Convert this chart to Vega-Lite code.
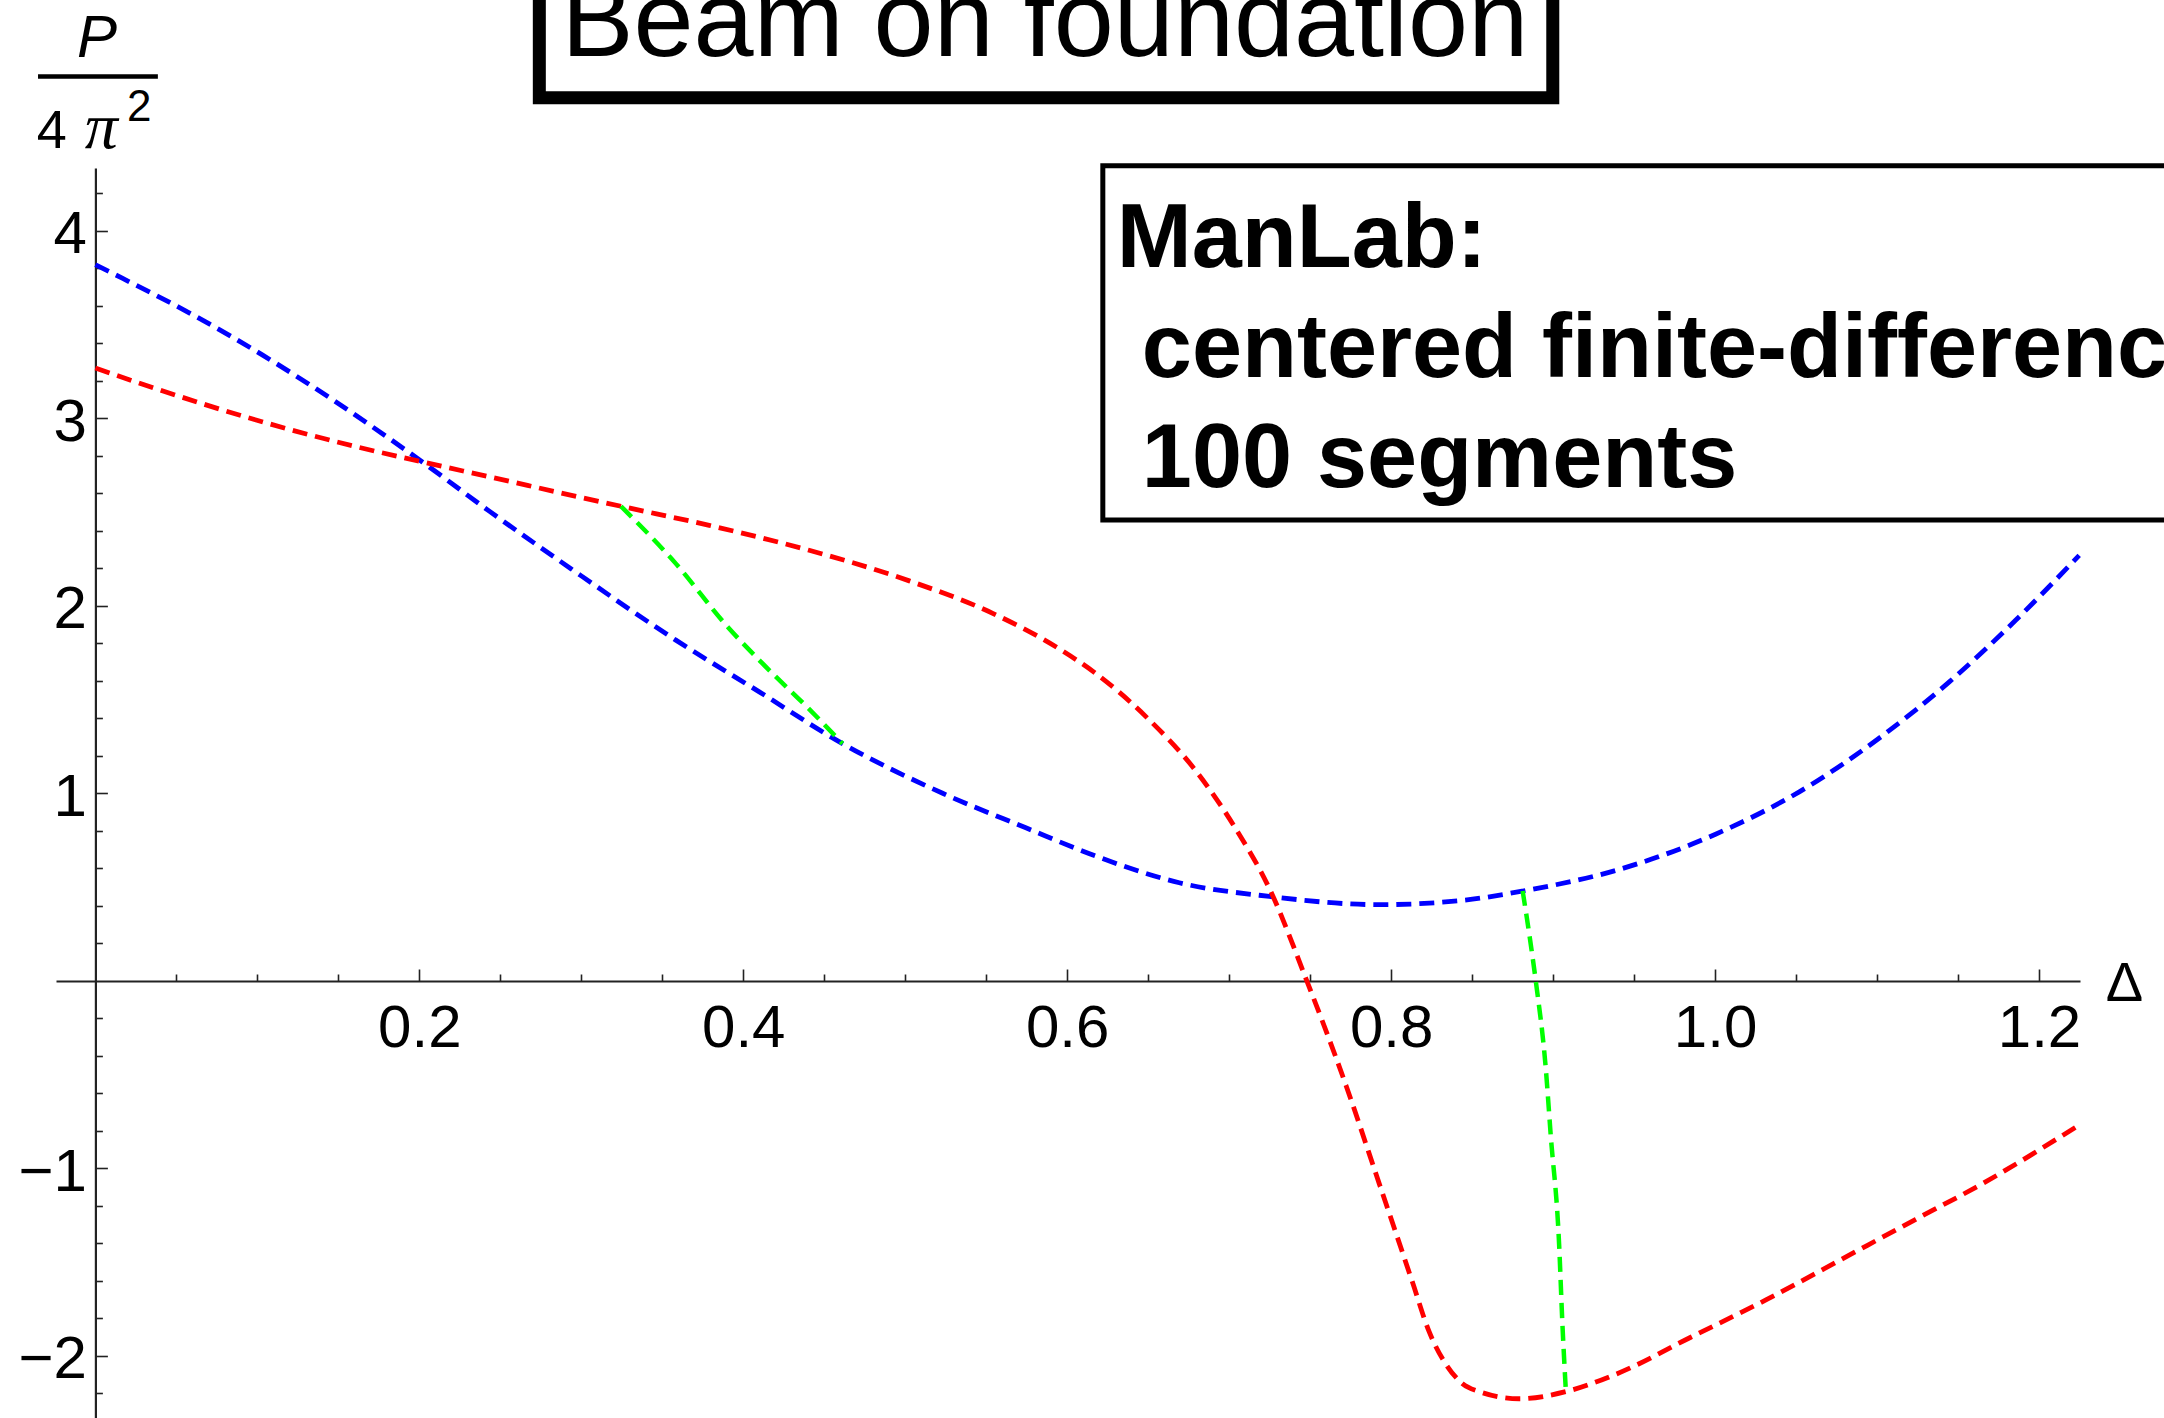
{
  "$schema": "https://vega.github.io/schema/vega-lite/v6.json",
  "width": 2024,
  "height": 1250,
  "autosize": {"type": "none"},
  "padding": {"left": 56, "top": 168, "right": 84, "bottom": 0},
  "background": "white",
  "config": {"view": {"stroke": null}, "axis": {"grid": false}},
  "datasets": {
    "curves": [
      {"curve": "branch 1", "seg": "b", "delta": 0, "p": 3.82},
      {"curve": "branch 1", "seg": "b", "delta": 0.0169, "p": 3.747},
      {"curve": "branch 1", "seg": "b", "delta": 0.0621, "p": 3.544},
      {"curve": "branch 1", "seg": "b", "delta": 0.1033, "p": 3.338},
      {"curve": "branch 1", "seg": "b", "delta": 0.1444, "p": 3.112},
      {"curve": "branch 1", "seg": "b", "delta": 0.1815, "p": 2.893},
      {"curve": "branch 1", "seg": "b", "delta": 0.2021, "p": 2.767},
      {"curve": "branch 1", "seg": "b", "delta": 0.2432, "p": 2.506},
      {"curve": "branch 1", "seg": "b", "delta": 0.2936, "p": 2.199},
      {"curve": "branch 1", "seg": "b", "delta": 0.3584, "p": 1.818},
      {"curve": "branch 1", "seg": "b", "delta": 0.4099, "p": 1.542},
      {"curve": "branch 1", "seg": "b", "delta": 0.4613, "p": 1.266},
      {"curve": "branch 1", "seg": "b", "delta": 0.5231, "p": 1.001},
      {"curve": "branch 1", "seg": "b", "delta": 0.5745, "p": 0.817},
      {"curve": "branch 1", "seg": "b", "delta": 0.6177, "p": 0.666},
      {"curve": "branch 1", "seg": "b", "delta": 0.6692, "p": 0.524},
      {"curve": "branch 1", "seg": "b", "delta": 0.7248, "p": 0.451},
      {"curve": "branch 1", "seg": "b", "delta": 0.7927, "p": 0.407},
      {"curve": "branch 1", "seg": "b", "delta": 0.8441, "p": 0.43},
      {"curve": "branch 1", "seg": "b", "delta": 0.8812, "p": 0.48},
      {"curve": "branch 1", "seg": "b", "delta": 0.9388, "p": 0.59},
      {"curve": "branch 1", "seg": "b", "delta": 1.0003, "p": 0.783},
      {"curve": "branch 1", "seg": "b", "delta": 1.052, "p": 1.009},
      {"curve": "branch 1", "seg": "b", "delta": 1.1033, "p": 1.308},
      {"curve": "branch 1", "seg": "b", "delta": 1.1446, "p": 1.595},
      {"curve": "branch 1", "seg": "b", "delta": 1.1857, "p": 1.925},
      {"curve": "branch 1", "seg": "b", "delta": 1.2248, "p": 2.27},
      {"curve": "branch 2", "seg": "r", "delta": 0, "p": 3.269},
      {"curve": "branch 2", "seg": "r", "delta": 0.0374, "p": 3.159},
      {"curve": "branch 2", "seg": "r", "delta": 0.0992, "p": 2.992},
      {"curve": "branch 2", "seg": "r", "delta": 0.1609, "p": 2.85},
      {"curve": "branch 2", "seg": "r", "delta": 0.2021, "p": 2.768},
      {"curve": "branch 2", "seg": "r", "delta": 0.2432, "p": 2.689},
      {"curve": "branch 2", "seg": "r", "delta": 0.2947, "p": 2.589},
      {"curve": "branch 2", "seg": "r", "delta": 0.3245, "p": 2.532},
      {"curve": "branch 2", "seg": "r", "delta": 0.379, "p": 2.43},
      {"curve": "branch 2", "seg": "r", "delta": 0.4407, "p": 2.297},
      {"curve": "branch 2", "seg": "r", "delta": 0.5025, "p": 2.134},
      {"curve": "branch 2", "seg": "r", "delta": 0.554, "p": 1.961},
      {"curve": "branch 2", "seg": "r", "delta": 0.595, "p": 1.772},
      {"curve": "branch 2", "seg": "r", "delta": 0.6177, "p": 1.64},
      {"curve": "branch 2", "seg": "r", "delta": 0.6486, "p": 1.41},
      {"curve": "branch 2", "seg": "r", "delta": 0.6795, "p": 1.12},
      {"curve": "branch 2", "seg": "r", "delta": 0.7042, "p": 0.81},
      {"curve": "branch 2", "seg": "r", "delta": 0.7248, "p": 0.494},
      {"curve": "branch 2", "seg": "r", "delta": 0.7474, "p": 0.013},
      {"curve": "branch 2", "seg": "r", "delta": 0.7721, "p": -0.556},
      {"curve": "branch 2", "seg": "r", "delta": 0.7927, "p": -1.082},
      {"curve": "branch 2", "seg": "r", "delta": 0.8132, "p": -1.607},
      {"curve": "branch 2", "seg": "r", "delta": 0.8234, "p": -1.869},
      {"curve": "branch 2", "seg": "r", "delta": 0.8339, "p": -2.045},
      {"curve": "branch 2", "seg": "r", "delta": 0.844, "p": -2.147},
      {"curve": "branch 2", "seg": "r", "delta": 0.8544, "p": -2.19},
      {"curve": "branch 2", "seg": "r", "delta": 0.8791, "p": -2.228},
      {"curve": "branch 2", "seg": "r", "delta": 0.9079, "p": -2.19},
      {"curve": "branch 2", "seg": "r", "delta": 0.9388, "p": -2.097},
      {"curve": "branch 2", "seg": "r", "delta": 0.985, "p": -1.9},
      {"curve": "branch 2", "seg": "r", "delta": 1.0314, "p": -1.701},
      {"curve": "branch 2", "seg": "r", "delta": 1.0828, "p": -1.462},
      {"curve": "branch 2", "seg": "r", "delta": 1.1239, "p": -1.271},
      {"curve": "branch 2", "seg": "r", "delta": 1.165, "p": -1.081},
      {"curve": "branch 2", "seg": "r", "delta": 1.2248, "p": -0.768},
      {"curve": "link", "seg": "g1", "delta": 0.3245, "p": 2.532},
      {"curve": "link", "seg": "g1", "delta": 0.3584, "p": 2.226},
      {"curve": "link", "seg": "g1", "delta": 0.3898, "p": 1.894},
      {"curve": "link", "seg": "g1", "delta": 0.4117, "p": 1.695},
      {"curve": "link", "seg": "g1", "delta": 0.4407, "p": 1.45},
      {"curve": "link", "seg": "g1", "delta": 0.4613, "p": 1.266},
      {"curve": "link", "seg": "g2", "delta": 0.8812, "p": 0.48},
      {"curve": "link", "seg": "g2", "delta": 0.8851, "p": 0.261},
      {"curve": "link", "seg": "g2", "delta": 0.8893, "p": 0.0},
      {"curve": "link", "seg": "g2", "delta": 0.8955, "p": -0.469},
      {"curve": "link", "seg": "g2", "delta": 0.8985, "p": -0.819},
      {"curve": "link", "seg": "g2", "delta": 0.9037, "p": -1.403},
      {"curve": "link", "seg": "g2", "delta": 0.9058, "p": -1.84},
      {"curve": "link", "seg": "g2", "delta": 0.9079, "p": -2.19}
    ]
  },
  "data": {"name": "curves"},
  "resolve": {"axis": {"x": "independent", "y": "independent"}},
  "layer": [
    {
      "data": {"values": [{}]},
      "mark": {"type": "rect", "fill": "white", "stroke": "black", "strokeWidth": 13, "clip": false},
      "encoding": {
        "x": {"datum": 0.2741, "type": "quantitative", "axis": null},
        "x2": {"datum": 0.8998},
        "y": {"datum": 4.711, "type": "quantitative", "axis": null},
        "y2": {"datum": 5.6}
      }
    },
    {
      "data": {"values": [{}]},
      "mark": {"type": "text", "text": "Beam on foundation", "font": "Liberation Sans", "fontSize": 108, "align": "center", "baseline": "alphabetic", "fill": "black", "clip": false},
      "encoding": {
        "x": {"datum": 0.5862, "type": "quantitative", "axis": null},
        "y": {"datum": 4.934, "type": "quantitative", "axis": null}
      }
    },
    {
      "data": {"values": [{}]},
      "mark": {"type": "rect", "fill": "white", "stroke": "black", "strokeWidth": 5, "clip": false},
      "encoding": {
        "x": {"datum": 0.622, "type": "quantitative", "axis": null},
        "x2": {"datum": 1.299},
        "y": {"datum": 4.348, "type": "quantitative", "axis": null},
        "y2": {"datum": 2.458}
      }
    },
    {
      "data": {"values": [{}]},
      "mark": {"type": "text", "text": "ManLab:", "font": "Liberation Sans", "fontWeight": "bold", "fontSize": 90, "align": "left", "baseline": "alphabetic", "fill": "black", "clip": false},
      "encoding": {
        "x": {"datum": 0.6306, "type": "quantitative", "axis": null},
        "y": {"datum": 3.806, "type": "quantitative", "axis": null}
      }
    },
    {
      "data": {"values": [{}]},
      "mark": {"type": "text", "text": "centered finite-difference", "font": "Liberation Sans", "fontWeight": "bold", "fontSize": 90, "align": "left", "baseline": "alphabetic", "fill": "black", "clip": false},
      "encoding": {
        "x": {"datum": 0.6461, "type": "quantitative", "axis": null},
        "y": {"datum": 3.223, "type": "quantitative", "axis": null}
      }
    },
    {
      "data": {"values": [{}]},
      "mark": {"type": "text", "text": "100 segments", "font": "Liberation Sans", "fontWeight": "bold", "fontSize": 90, "align": "left", "baseline": "alphabetic", "fill": "black", "clip": false},
      "encoding": {
        "x": {"datum": 0.6461, "type": "quantitative", "axis": null},
        "y": {"datum": 2.636, "type": "quantitative", "axis": null}
      }
    },
    {
      "data": {"values": [{}]},
      "mark": {"type": "text", "text": "P", "font": "Liberation Sans", "fontStyle": "italic", "fontSize": 60, "align": "center", "baseline": "alphabetic", "fill": "black", "clip": false},
      "encoding": {
        "x": {"datum": 0.001, "type": "quantitative", "axis": null},
        "y": {"datum": 4.928, "type": "quantitative", "axis": null}
      }
    },
    {
      "data": {"values": [{}]},
      "mark": {"type": "rule", "strokeWidth": 4.5, "color": "black", "clip": false},
      "encoding": {
        "x": {"datum": -0.0354, "type": "quantitative", "axis": null},
        "x2": {"datum": 0.0386},
        "y": {"datum": 4.824, "type": "quantitative", "axis": null}
      }
    },
    {
      "data": {"values": [{}]},
      "mark": {"type": "text", "text": "4", "font": "Liberation Sans", "fontSize": 54, "align": "left", "baseline": "alphabetic", "fill": "black", "clip": false},
      "encoding": {
        "x": {"datum": -0.0362, "type": "quantitative", "axis": null},
        "y": {"datum": 4.445, "type": "quantitative", "axis": null}
      }
    },
    {
      "data": {"values": [{}]},
      "mark": {"type": "text", "text": "π", "font": "Liberation Serif", "fontStyle": "italic", "fontSize": 66, "align": "left", "baseline": "alphabetic", "fill": "black", "clip": false},
      "encoding": {
        "x": {"datum": -0.0066, "type": "quantitative", "axis": null},
        "y": {"datum": 4.445, "type": "quantitative", "axis": null}
      }
    },
    {
      "data": {"values": [{}]},
      "mark": {"type": "text", "text": "2", "font": "Liberation Sans", "fontSize": 44, "align": "left", "baseline": "alphabetic", "fill": "black", "clip": false},
      "encoding": {
        "x": {"datum": 0.0195, "type": "quantitative", "axis": null},
        "y": {"datum": 4.585, "type": "quantitative", "axis": null}
      }
    },
    {
      "transform": [{"filter": "datum.curve !== 'link'"}],
      "mark": {"type": "line", "strokeDash": [15, 8], "strokeWidth": 4.8, "interpolate": "monotone", "clip": false},
      "encoding": {
        "x": {
          "field": "delta", "type": "quantitative",
          "scale": {"domain": [-0.0243, 1.2253], "nice": false, "zero": false},
          "axis": {
            "orient": "bottom", "offset": -437,
            "values": [0.2, 0.4, 0.6, 0.8, 1.0, 1.2], "format": ".1f",
            "tickSize": -12, "tickWidth": 1.6, "tickColor": "#222",
            "domain": true, "domainColor": "#222", "domainWidth": 2.2,
            "labelFont": "Liberation Sans", "labelFontSize": 60, "labelColor": "black",
            "labelPadding": 30, "labelFlush": false, "labelOverlap": false,
            "grid": false,
            "title": "Δ", "titleFont": "Liberation Sans", "titleFontSize": 56, "titleFontWeight": "normal",
            "titleColor": "black", "titleX": 2068, "titleY": 2, "titleAlign": "center",
            "titleBaseline": "middle", "titleAngle": 0
          }
        },
        "y": {
          "field": "p", "type": "quantitative",
          "scale": {"domain": [-2.3307, 4.336], "nice": false, "zero": false},
          "axis": {
            "orient": "left", "offset": -39.4,
            "values": [-2, -1, 1, 2, 3, 4], "format": "d",
            "tickSize": -12, "tickWidth": 1.6, "tickColor": "#222",
            "domain": true, "domainColor": "#222", "domainWidth": 2.2,
            "labelFont": "Liberation Sans", "labelFontSize": 60, "labelColor": "black",
            "labelPadding": 21, "labelOffset": 4, "labelFlush": false, "labelOverlap": false,
            "grid": false, "title": null
          }
        },
        "color": {
          "field": "curve", "type": "nominal",
          "scale": {"domain": ["branch 1", "branch 2", "link"], "range": ["#0000ff", "#ff0000", "#00ff00"]},
          "legend": null
        },
        "detail": {"field": "seg"}
      }
    },
    {
      "transform": [{"filter": "datum.curve === 'link'"}],
      "mark": {"type": "line", "strokeDash": [15, 8], "strokeWidth": 4.5, "interpolate": "monotone", "clip": false},
      "encoding": {
        "x": {
          "field": "delta", "type": "quantitative",
          "axis": {
            "orient": "bottom", "offset": -437,
            "values": [0.05, 0.1, 0.15, 0.25, 0.3, 0.35, 0.45, 0.5, 0.55, 0.65, 0.7, 0.75, 0.85, 0.9, 0.95, 1.05, 1.1, 1.15],
            "tickSize": -7, "tickWidth": 1.6, "tickColor": "#222",
            "labels": false, "domain": false, "grid": false, "title": null
          }
        },
        "y": {
          "field": "p", "type": "quantitative",
          "axis": {
            "orient": "left", "offset": -39.4,
            "values": [-2.2, -1.8, -1.6, -1.4, -1.2, -0.8, -0.6, -0.4, -0.2, 0.2, 0.4, 0.6, 0.8, 1.2, 1.4, 1.6, 1.8, 2.2, 2.4, 2.6, 2.8, 3.2, 3.4, 3.6, 3.8, 4.2],
            "tickSize": -7, "tickWidth": 1.6, "tickColor": "#222",
            "labels": false, "domain": false, "grid": false, "title": null
          }
        },
        "color": {
          "field": "curve", "type": "nominal",
          "scale": {"domain": ["branch 1", "branch 2", "link"], "range": ["#0000ff", "#ff0000", "#00ff00"]},
          "legend": null
        },
        "detail": {"field": "seg"}
      }
    }
  ]
}
